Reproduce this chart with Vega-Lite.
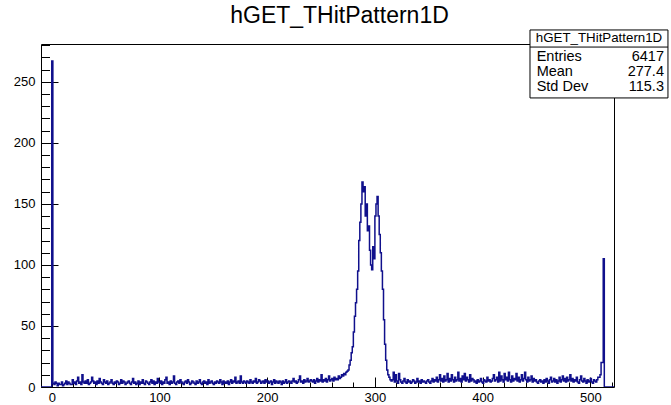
{
"$schema": "https://vega.github.io/schema/vega-lite/v6.json",
"width": 573, "height": 343,
"autosize": {"type": "none"},
"padding": {"left": 41, "top": 44, "right": 57, "bottom": 18},
"background": "#ffffff",
"title": {"text": "hGET_THitPattern1D", "fontSize": 23, "fontWeight": "normal", "font": "Liberation Sans", "color": "#000", "anchor": "middle", "offset": 1, "dx": 12},
"config": {"view": {"stroke": "#000", "strokeWidth": 1}, "font": "Liberation Sans", "axis": {"grid": false, "domain": false, "labelFont": "Liberation Sans", "labelFontSize": 13, "labelColor": "#000", "tickColor": "#000", "title": null}},
"datasets": {"hist": [
{"b":-10,"n":0},{"b":-9,"n":0},{"b":-8,"n":0},{"b":-7,"n":0},{"b":-6,"n":0},{"b":-5,"n":0},{"b":-4,"n":0},{"b":-3,"n":0},{"b":-2,"n":0},{"b":-1,"n":0},
{"b":0,"n":267},
{"b":1,"n":3},{"b":2,"n":2},{"b":3,"n":4},{"b":4,"n":3},{"b":5,"n":1},{"b":6,"n":3},{"b":7,"n":2},{"b":8,"n":2},{"b":9,"n":4},{"b":10,"n":1},
{"b":11,"n":2},{"b":12,"n":3},{"b":13,"n":5},{"b":14,"n":2},{"b":15,"n":4},{"b":16,"n":3},{"b":17,"n":2},{"b":18,"n":2},{"b":19,"n":6},{"b":20,"n":3},
{"b":21,"n":4},{"b":22,"n":2},{"b":23,"n":5},{"b":24,"n":8},{"b":25,"n":3},{"b":26,"n":4},{"b":27,"n":2},{"b":28,"n":10},{"b":29,"n":4},{"b":30,"n":3},
{"b":31,"n":5},{"b":32,"n":3},{"b":33,"n":6},{"b":34,"n":2},{"b":35,"n":3},{"b":36,"n":4},{"b":37,"n":8},{"b":38,"n":5},{"b":39,"n":3},{"b":40,"n":4},
{"b":41,"n":2},{"b":42,"n":5},{"b":43,"n":3},{"b":44,"n":7},{"b":45,"n":4},{"b":46,"n":3},{"b":47,"n":2},{"b":48,"n":6},{"b":49,"n":4},{"b":50,"n":3},
{"b":51,"n":5},{"b":52,"n":2},{"b":53,"n":3},{"b":54,"n":4},{"b":55,"n":6},{"b":56,"n":3},{"b":57,"n":2},{"b":58,"n":4},{"b":59,"n":3},{"b":60,"n":5},
{"b":61,"n":4},{"b":62,"n":2},{"b":63,"n":3},{"b":64,"n":6},{"b":65,"n":3},{"b":66,"n":5},{"b":67,"n":4},{"b":68,"n":2},{"b":69,"n":3},{"b":70,"n":4},
{"b":71,"n":5},{"b":72,"n":3},{"b":73,"n":2},{"b":74,"n":4},{"b":75,"n":7},{"b":76,"n":3},{"b":77,"n":4},{"b":78,"n":2},{"b":79,"n":3},{"b":80,"n":5},
{"b":81,"n":2},{"b":82,"n":4},{"b":83,"n":3},{"b":84,"n":6},{"b":85,"n":3},{"b":86,"n":2},{"b":87,"n":5},{"b":88,"n":4},{"b":89,"n":3},{"b":90,"n":2},
{"b":91,"n":4},{"b":92,"n":6},{"b":93,"n":3},{"b":94,"n":5},{"b":95,"n":2},{"b":96,"n":4},{"b":97,"n":3},{"b":98,"n":7},{"b":99,"n":4},{"b":100,"n":3},
{"b":101,"n":5},{"b":102,"n":2},{"b":103,"n":4},{"b":104,"n":3},{"b":105,"n":6},{"b":106,"n":8},{"b":107,"n":3},{"b":108,"n":4},{"b":109,"n":2},{"b":110,"n":5},
{"b":111,"n":3},{"b":112,"n":4},{"b":113,"n":9},{"b":114,"n":3},{"b":115,"n":2},{"b":116,"n":4},{"b":117,"n":5},{"b":118,"n":3},{"b":119,"n":6},{"b":120,"n":4},
{"b":121,"n":3},{"b":122,"n":2},{"b":123,"n":4},{"b":124,"n":5},{"b":125,"n":3},{"b":126,"n":6},{"b":127,"n":4},{"b":128,"n":2},{"b":129,"n":3},{"b":130,"n":5},
{"b":131,"n":4},{"b":132,"n":3},{"b":133,"n":2},{"b":134,"n":5},{"b":135,"n":3},{"b":136,"n":4},{"b":137,"n":6},{"b":138,"n":3},{"b":139,"n":2},{"b":140,"n":4},
{"b":141,"n":5},{"b":142,"n":3},{"b":143,"n":4},{"b":144,"n":2},{"b":145,"n":6},{"b":146,"n":3},{"b":147,"n":4},{"b":148,"n":5},{"b":149,"n":3},{"b":150,"n":2},
{"b":151,"n":4},{"b":152,"n":3},{"b":153,"n":5},{"b":154,"n":4},{"b":155,"n":3},{"b":156,"n":6},{"b":157,"n":4},{"b":158,"n":2},{"b":159,"n":5},{"b":160,"n":3},
{"b":161,"n":4},{"b":162,"n":3},{"b":163,"n":5},{"b":164,"n":2},{"b":165,"n":4},{"b":166,"n":6},{"b":167,"n":3},{"b":168,"n":5},{"b":169,"n":4},{"b":170,"n":8},
{"b":171,"n":3},{"b":172,"n":4},{"b":173,"n":5},{"b":174,"n":3},{"b":175,"n":9},{"b":176,"n":4},{"b":177,"n":3},{"b":178,"n":5},{"b":179,"n":4},{"b":180,"n":3},
{"b":181,"n":5},{"b":182,"n":4},{"b":183,"n":3},{"b":184,"n":6},{"b":185,"n":4},{"b":186,"n":3},{"b":187,"n":5},{"b":188,"n":4},{"b":189,"n":7},{"b":190,"n":3},
{"b":191,"n":4},{"b":192,"n":6},{"b":193,"n":5},{"b":194,"n":3},{"b":195,"n":4},{"b":196,"n":5},{"b":197,"n":3},{"b":198,"n":6},{"b":199,"n":4},{"b":200,"n":5},
{"b":201,"n":3},{"b":202,"n":4},{"b":203,"n":5},{"b":204,"n":2},{"b":205,"n":4},{"b":206,"n":6},{"b":207,"n":3},{"b":208,"n":5},{"b":209,"n":4},{"b":210,"n":3},
{"b":211,"n":5},{"b":212,"n":4},{"b":213,"n":2},{"b":214,"n":5},{"b":215,"n":3},{"b":216,"n":4},{"b":217,"n":6},{"b":218,"n":3},{"b":219,"n":4},{"b":220,"n":5},
{"b":221,"n":4},{"b":222,"n":3},{"b":223,"n":5},{"b":224,"n":7},{"b":225,"n":4},{"b":226,"n":5},{"b":227,"n":3},{"b":228,"n":4},{"b":229,"n":6},{"b":230,"n":9},
{"b":231,"n":4},{"b":232,"n":5},{"b":233,"n":3},{"b":234,"n":6},{"b":235,"n":4},{"b":236,"n":5},{"b":237,"n":7},{"b":238,"n":4},{"b":239,"n":5},{"b":240,"n":6},
{"b":241,"n":5},{"b":242,"n":4},{"b":243,"n":6},{"b":244,"n":3},{"b":245,"n":5},{"b":246,"n":7},{"b":247,"n":4},{"b":248,"n":6},{"b":249,"n":5},{"b":250,"n":10},
{"b":251,"n":4},{"b":252,"n":6},{"b":253,"n":5},{"b":254,"n":7},{"b":255,"n":4},{"b":256,"n":6},{"b":257,"n":9},{"b":258,"n":5},{"b":259,"n":6},{"b":260,"n":7},
{"b":261,"n":5},{"b":262,"n":8},{"b":263,"n":6},{"b":264,"n":7},{"b":265,"n":6},{"b":266,"n":9},{"b":267,"n":7},{"b":268,"n":8},{"b":269,"n":10},{"b":270,"n":9},
{"b":271,"n":11},{"b":272,"n":10},{"b":273,"n":12},{"b":274,"n":13},{"b":275,"n":14},{"b":276,"n":18},{"b":277,"n":22},{"b":278,"n":28},{"b":279,"n":33},{"b":280,"n":45},
{"b":281,"n":58},{"b":282,"n":69},{"b":283,"n":80},{"b":284,"n":95},{"b":285,"n":120},{"b":286,"n":135},{"b":287,"n":150},{"b":288,"n":168},{"b":289,"n":160},{"b":290,"n":164},
{"b":291,"n":140},{"b":292,"n":150},{"b":293,"n":128},{"b":294,"n":132},{"b":295,"n":112},{"b":296,"n":100},{"b":297,"n":96},{"b":298,"n":115},{"b":299,"n":105},{"b":300,"n":140},
{"b":301,"n":150},{"b":302,"n":156},{"b":303,"n":140},{"b":304,"n":125},{"b":305,"n":110},{"b":306,"n":95},{"b":307,"n":80},{"b":308,"n":55},{"b":309,"n":35},{"b":310,"n":22},
{"b":311,"n":14},{"b":312,"n":10},{"b":313,"n":8},{"b":314,"n":6},{"b":315,"n":5},
{"b":316,"n":6},{"b":317,"n":12},{"b":318,"n":4},{"b":319,"n":10},{"b":320,"n":5},{"b":321,"n":3},{"b":322,"n":11},{"b":323,"n":6},{"b":324,"n":4},{"b":325,"n":3},
{"b":326,"n":5},{"b":327,"n":7},{"b":328,"n":4},{"b":329,"n":3},{"b":330,"n":6},{"b":331,"n":4},{"b":332,"n":5},{"b":333,"n":3},{"b":334,"n":4},{"b":335,"n":6},
{"b":336,"n":5},{"b":337,"n":3},{"b":338,"n":4},{"b":339,"n":7},{"b":340,"n":4},{"b":341,"n":5},{"b":342,"n":3},{"b":343,"n":6},{"b":344,"n":4},{"b":345,"n":5},
{"b":346,"n":4},{"b":347,"n":3},{"b":348,"n":5},{"b":349,"n":6},{"b":350,"n":4},{"b":351,"n":3},{"b":352,"n":5},{"b":353,"n":7},{"b":354,"n":4},{"b":355,"n":6},
{"b":356,"n":5},{"b":357,"n":8},{"b":358,"n":4},{"b":359,"n":6},{"b":360,"n":10},{"b":361,"n":5},{"b":362,"n":7},{"b":363,"n":4},{"b":364,"n":9},{"b":365,"n":5},
{"b":366,"n":6},{"b":367,"n":11},{"b":368,"n":4},{"b":369,"n":7},{"b":370,"n":5},{"b":371,"n":10},{"b":372,"n":6},{"b":373,"n":4},{"b":374,"n":8},{"b":375,"n":5},
{"b":376,"n":6},{"b":377,"n":12},{"b":378,"n":5},{"b":379,"n":7},{"b":380,"n":4},{"b":381,"n":9},{"b":382,"n":6},{"b":383,"n":11},{"b":384,"n":5},{"b":385,"n":8},
{"b":386,"n":6},{"b":387,"n":4},{"b":388,"n":10},{"b":389,"n":5},{"b":390,"n":7},{"b":391,"n":6},{"b":392,"n":4},{"b":393,"n":5},{"b":394,"n":3},{"b":395,"n":6},
{"b":396,"n":4},{"b":397,"n":5},{"b":398,"n":7},{"b":399,"n":4},{"b":400,"n":3},{"b":401,"n":6},{"b":402,"n":5},{"b":403,"n":4},{"b":404,"n":8},{"b":405,"n":5},
{"b":406,"n":6},{"b":407,"n":4},{"b":408,"n":5},{"b":409,"n":7},{"b":410,"n":10},{"b":411,"n":5},{"b":412,"n":6},{"b":413,"n":8},{"b":414,"n":4},{"b":415,"n":12},
{"b":416,"n":5},{"b":417,"n":9},{"b":418,"n":6},{"b":419,"n":4},{"b":420,"n":11},{"b":421,"n":6},{"b":422,"n":8},{"b":423,"n":5},{"b":424,"n":12},{"b":425,"n":6},
{"b":426,"n":4},{"b":427,"n":9},{"b":428,"n":5},{"b":429,"n":7},{"b":430,"n":6},{"b":431,"n":11},{"b":432,"n":5},{"b":433,"n":8},{"b":434,"n":4},{"b":435,"n":6},
{"b":436,"n":10},{"b":437,"n":5},{"b":438,"n":7},{"b":439,"n":12},{"b":440,"n":6},{"b":441,"n":4},{"b":442,"n":8},{"b":443,"n":5},{"b":444,"n":6},{"b":445,"n":9},
{"b":446,"n":4},{"b":447,"n":7},{"b":448,"n":5},{"b":449,"n":6},{"b":450,"n":4},{"b":451,"n":3},{"b":452,"n":5},{"b":453,"n":6},{"b":454,"n":4},{"b":455,"n":5},
{"b":456,"n":3},{"b":457,"n":6},{"b":458,"n":4},{"b":459,"n":7},{"b":460,"n":5},{"b":461,"n":3},{"b":462,"n":6},{"b":463,"n":8},{"b":464,"n":4},{"b":465,"n":5},
{"b":466,"n":7},{"b":467,"n":4},{"b":468,"n":6},{"b":469,"n":3},{"b":470,"n":5},{"b":471,"n":8},{"b":472,"n":4},{"b":473,"n":6},{"b":474,"n":9},{"b":475,"n":5},
{"b":476,"n":7},{"b":477,"n":4},{"b":478,"n":8},{"b":479,"n":5},{"b":480,"n":6},{"b":481,"n":10},{"b":482,"n":5},{"b":483,"n":7},{"b":484,"n":4},{"b":485,"n":6},
{"b":486,"n":5},{"b":487,"n":8},{"b":488,"n":4},{"b":489,"n":3},{"b":490,"n":6},{"b":491,"n":9},{"b":492,"n":5},{"b":493,"n":4},{"b":494,"n":7},{"b":495,"n":5},
{"b":496,"n":3},{"b":497,"n":6},{"b":498,"n":4},{"b":499,"n":5},{"b":500,"n":7},{"b":501,"n":4},{"b":502,"n":3},{"b":503,"n":6},{"b":504,"n":5},{"b":505,"n":4},
{"b":506,"n":6},{"b":507,"n":8},{"b":508,"n":8},{"b":509,"n":10},{"b":510,"n":20},{"b":511,"n":20},{"b":512,"n":105},
{"b":513,"n":0},{"b":514,"n":0},{"b":515,"n":0},{"b":516,"n":0},{"b":517,"n":0},{"b":518,"n":0},{"b":519,"n":0},{"b":520,"n":0},{"b":521,"n":0},{"b":522,"n":0}
],
"stats": [{"name": "hGET_THitPattern1D", "entries": "6417", "mean": "277.4", "std": "115.3"}]},
"resolve": {"axis": {"x": "independent", "y": "independent"}},
"layer": [
{"data": {"name": "hist"},
 "mark": {"type": "line", "interpolate": "step-after", "color": "#10108c", "strokeWidth": 1.5, "clip": true},
 "encoding": {
  "x": {"field": "b", "type": "quantitative", "scale": {"domain": [-10, 522], "nice": false, "zero": false},
        "axis": {"orient": "bottom", "values": [0, 100, 200, 300, 400, 500], "tickSize": -10, "labelPadding": 14}},
  "y": {"field": "n", "type": "quantitative", "scale": {"domain": [0, 281], "nice": false, "zero": false},
        "axis": {"orient": "left", "values": [0, 50, 100, 150, 200, 250], "tickSize": -17, "labelPadding": 23}}}},
{"data": {"name": "hist"},
 "mark": {"type": "line", "opacity": 0},
 "encoding": {
  "x": {"field": "b", "type": "quantitative", "scale": {"domain": [-10, 522], "nice": false, "zero": false},
        "axis": {"orient": "bottom", "values": [0,20,40,60,80,100,120,140,160,180,200,220,240,260,280,300,320,340,360,380,400,420,440,460,480,500,520], "tickSize": -5, "labels": false}},
  "y": {"field": "n", "type": "quantitative", "scale": {"domain": [0, 281], "nice": false, "zero": false},
        "axis": {"orient": "left", "values": [0,10,20,30,40,50,60,70,80,90,100,110,120,130,140,150,160,170,180,190,200,210,220,230,240,250,260,270,280], "tickSize": -8.5, "labels": false}}}},
{"data": {"name": "stats"},
 "mark": {"type": "rect", "fill": "#ffffff", "stroke": "#000", "strokeWidth": 1},
 "encoding": {
  "x": {"datum": 444.0, "type": "quantitative", "scale": {"domain": [-10, 522], "nice": false, "zero": false}, "axis": null},
  "x2": {"datum": 572.1},
  "y": {"datum": 292.5, "type": "quantitative", "scale": {"domain": [0, 281], "nice": false, "zero": false}, "axis": null},
  "y2": {"datum": 236.8}}},
{"data": {"name": "stats"},
 "mark": {"type": "rule", "stroke": "#000", "strokeWidth": 1},
 "encoding": {
  "x": {"datum": 444.0, "type": "quantitative", "scale": {"domain": [-10, 522], "nice": false, "zero": false}, "axis": null},
  "x2": {"datum": 572.1},
  "y": {"datum": 278.5, "type": "quantitative", "scale": {"domain": [0, 281], "nice": false, "zero": false}, "axis": null}}},
{"data": {"name": "stats"},
 "mark": {"type": "text", "fontSize": 13.3, "font": "Liberation Sans", "align": "center", "baseline": "middle", "color": "#000"},
 "encoding": {
  "text": {"field": "name"},
  "x": {"datum": 508.1, "type": "quantitative", "scale": {"domain": [-10, 522], "nice": false, "zero": false}, "axis": null},
  "y": {"datum": 285.9, "type": "quantitative", "scale": {"domain": [0, 281], "nice": false, "zero": false}, "axis": null}}},
{"data": {"name": "stats"},
 "mark": {"type": "text", "fontSize": 14.5, "font": "Liberation Sans", "align": "left", "baseline": "middle", "lineHeight": 15, "color": "#000", "text": ["Entries", "Mean", "Std Dev"]},
 "encoding": {
  "x": {"datum": 450.2, "type": "quantitative", "scale": {"domain": [-10, 522], "nice": false, "zero": false}, "axis": null},
  "y": {"datum": 270.3, "type": "quantitative", "scale": {"domain": [0, 281], "nice": false, "zero": false}, "axis": null}}},
{"data": {"name": "stats"},
 "mark": {"type": "text", "fontSize": 14.5, "font": "Liberation Sans", "align": "right", "baseline": "middle", "lineHeight": 15, "color": "#000"},
 "encoding": {
  "text": {"value": ["6417", "277.4", "115.3"]},
  "x": {"datum": 568.4, "type": "quantitative", "scale": {"domain": [-10, 522], "nice": false, "zero": false}, "axis": null},
  "y": {"datum": 270.3, "type": "quantitative", "scale": {"domain": [0, 281], "nice": false, "zero": false}, "axis": null}}}
]
}
